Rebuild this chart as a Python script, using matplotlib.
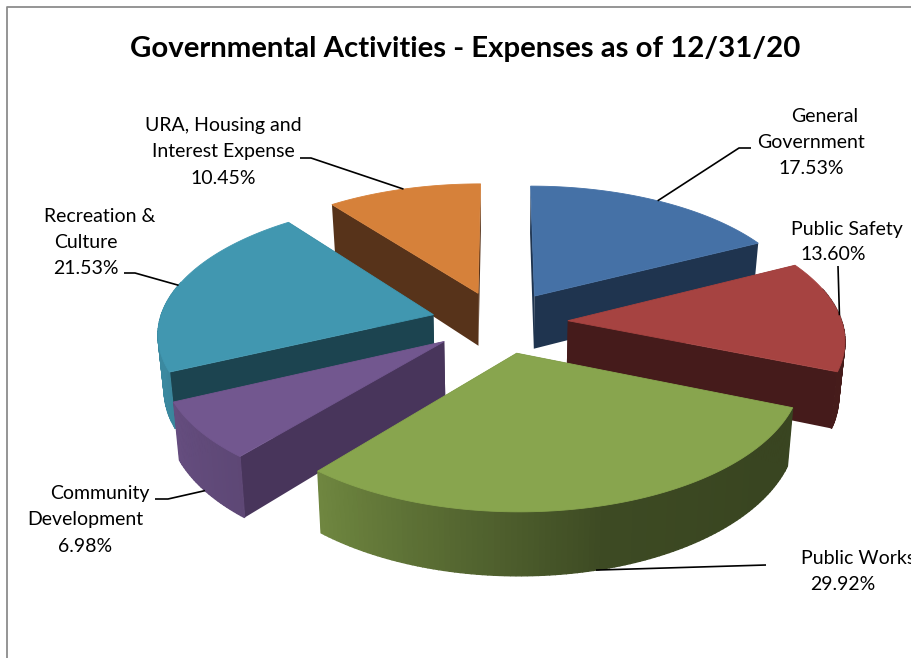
import numpy as np
import matplotlib
matplotlib.use("Agg")
import matplotlib.pyplot as plt
from matplotlib.colors import to_rgb

# Slices, clockwise from 12 o'clock
names = ["General Government", "Public Safety", "Public Works",
         "Community Development", "Recreation & Culture",
         "URA, Housing and Interest Expense"]
shares = [17.53, 13.60, 29.92, 6.98, 21.53, 10.45]
top_colors = ["#4571a6", "#a64341", "#88a54e", "#72578f", "#4197b0", "#d6813a"]
side_colors = ["#1f344f", "#451b1b", "#3a431c", "#48355b", "#1c4450", "#57331a"]

# Label lines as they break in the chart
label_lines = [["General", "Government"], ["Public Safety"], ["Public Works"],
               ["Community", "Development"], ["Recreation &", "Culture"],
               ["URA, Housing and", "Interest Expense"]]

# Fake 3D pie settings (pixels)
CX, CY = 499.5, 322
RX, RY = 274, 130
PERSP = 0.1264
EXPLODE_U, EXPLODE_V = 0.25, 0.24
DEPTH = 54
BOTTOM_SHRINK = 0.982

# Wall brightness against compass angle of the pie
light_angle = [0, 130, 165, 220, 250, 290, 360]
light_level = [0.42, 0.42, 0.45, 0.82, 0.90, 0.92, 0.90]


def project(u, v, bottom=False):
    s = 1 / (1 + PERSP * v)
    x = RX * u * s
    y = -RY * v * s
    if bottom:
        x = x * BOTTOM_SHRINK
        y = y + DEPTH * s
    return CX + x, CY + y


def slice_points(mid, theta, r=1.0):
    du, dv = EXPLODE_U * np.sin(mid), EXPLODE_V * np.cos(mid)
    return du + r * np.sin(theta), dv + r * np.cos(theta)


fig = plt.figure(figsize=(9.11, 6.58), dpi=100)
ax = fig.add_axes([0, 0, 1, 1])
ax.set_xlim(0, 911)
ax.set_ylim(658, 0)
ax.axis("off")
plt.rcParams["font.family"] = ["Lato", "DejaVu Sans"]

# Chart frame, only top and left show
ax.plot([6.5, 6.5, 911], [658, 6.5, 6.5], color="#8c8c8c", lw=1.3)

edges = np.cumsum([0] + shares) / 100 * 2 * np.pi
mids = (edges[:-1] + edges[1:]) / 2

# Painter's order: back slices first
order = list(np.argsort(-np.cos(mids)))
for i in order:
    a0, a1, mid = edges[i], edges[i + 1], mids[i]
    angles = np.linspace(a0, a1, max(int(np.degrees(a1 - a0)), 8) + 1)
    z = 2 + order.index(i)

    # Flat cut faces
    tip_u, tip_v = slice_points(mid, 0, 0)
    for a in (a0, a1):
        u, v = slice_points(mid, a)
        p = [project(tip_u, tip_v), project(u, v),
             project(u, v, True), project(tip_u, tip_v, True)]
        ax.fill(*zip(*p), color=side_colors[i], lw=0, zorder=z)

    # Outer wall, one strip per step so the shading can change
    base = np.array(to_rgb(top_colors[i]))
    for b0, b1 in zip(angles[:-1], angles[1:]):
        u0, v0 = slice_points(mid, b0)
        u1, v1 = slice_points(mid, b1)
        if np.cos(b0) > 0.25 and np.cos(b1) > 0.25:
            continue
        level = np.interp(np.degrees((b0 + b1) / 2), light_angle, light_level)
        p = [project(u0, v0), project(u1, v1),
             project(u1, v1, True), project(u0, v0, True)]
        ax.fill(*zip(*p), color=tuple(base * level), lw=1.0, zorder=z)

    # Top face
    us, vs = slice_points(mid, angles)
    xs, ys = project(us, vs)
    tx, ty = project(tip_u, tip_v)
    ax.fill(np.r_[tx, xs], np.r_[ty, ys], color=top_colors[i], lw=0.6, zorder=z)

# Leader lines start on the rim at each slice's middle angle
leader_ends = [[(739, 148), (751, 148)], [(838, 266)], [(766, 565)],
               [(168, 499), (155, 499)], [(135, 273), (124, 273)],
               [(311, 158), (300, 158)]]
on_bottom = [False, False, True, True, False, False]
for i, ends in enumerate(leader_ends):
    u, v = slice_points(mids[i], mids[i])
    start = project(u, v, on_bottom[i])
    pts = [start] + ends
    ax.plot(*zip(*pts), color="black", lw=1.2, zorder=20, solid_capstyle="butt")

# Text
label_pos = [[(825, 116), (811, 142), (811, 168)],
             [(847, 229), (833, 255)],
             [(858, 559), (843, 585)],
             [(100, 493), (85, 520), (85, 546)],
             [(100, 216), (86, 242), (86, 268)],
             [(223, 126), (223, 152), (223, 178)]]
for i, pos in enumerate(label_pos):
    lines = label_lines[i] + [f"{shares[i]:.2f}%"]
    for txt, (x, y) in zip(lines, pos):
        ax.text(x, y, txt, ha="center", va="center", fontsize=14,
                color="black", zorder=30)

ax.text(465, 49, "Governmental Activities - Expenses as of 12/31/20",
        ha="center", va="center", fontsize=21.2, fontweight="bold", color="black")

fig.savefig("out.png", dpi=100)
